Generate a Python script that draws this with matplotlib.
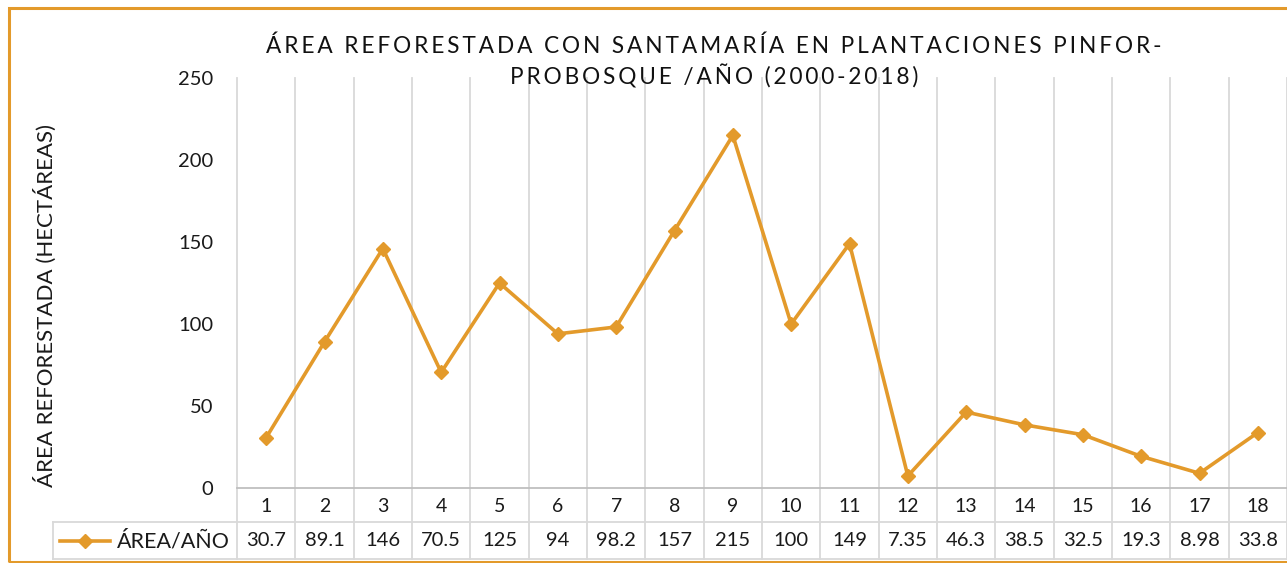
import matplotlib
matplotlib.use("Agg")
import matplotlib.pyplot as plt
from matplotlib.lines import Line2D
from matplotlib.patches import Rectangle

plt.rcParams['font.family'] = ['Lato', 'DejaVu Sans']

categories = [str(i) for i in range(1, 19)]
values = [30.7, 89.1, 146, 70.5, 125, 94, 98.2, 157, 215, 100, 149, 7.35,
          46.3, 38.5, 32.5, 19.3, 8.98, 33.8]
value_labels = ["30.7", "89.1", "146", "70.5", "125", "94", "98.2", "157", "215",
                "100", "149", "7.35", "46.3", "38.5", "32.5", "19.3", "8.98", "33.8"]
series_name = "ÁREA/AÑO"
yticks = [0, 50, 100, 150, 200, 250]
title = "ÁREA REFORESTADA CON SANTAMARÍA EN PLANTACIONES PINFOR-\nPROBOSQUE /AÑO (2000-2018)"
ylabel = "ÁREA REFORESTADA (HECTÁREAS)"

ORANGE = "#E39A2B"
GRID = "#D9D9D9"
AXIS = "#BFBFBF"
TXT = "#1a1a1a"

W, H = 1287, 563
fig = plt.figure(figsize=(W / 100, H / 100), dpi=100)

def fx(px):
    return px / W

def fy(py):
    return 1 - py / H

left, right, top, bottom = 237, 1287, 78, 488
ax = fig.add_axes([fx(left), fy(bottom), fx(right) - fx(left), fy(top) - fy(bottom)])
n = len(categories)
x = list(range(1, n + 1))
ax.set_xlim(0.5, n + 0.5)
ax.set_ylim(0, 250)
for s in ['top', 'right', 'left']:
    ax.spines[s].set_visible(False)
ax.spines['bottom'].set_color(AXIS)
ax.spines['bottom'].set_linewidth(1.3)
ax.set_xticks([])
ax.set_yticks(yticks)
ax.tick_params(axis='y', length=0, pad=17, labelsize=14.5, labelcolor=TXT)

ah = bottom - top
def ay(py):
    return (bottom - py) / ah
row1_bottom = ay(522)
row2_bottom = ay(559)
header_left = (53 - left) / (right - left)

for b in [i + 0.5 for i in range(0, n + 1)]:
    ax.plot([b, b], [row2_bottom, 1], color=GRID, lw=1.3,
            transform=ax.get_xaxis_transform(), clip_on=False, zorder=0)

for yy in [row1_bottom, row2_bottom]:
    ax.add_line(Line2D([header_left, 1], [yy, yy], color=GRID, lw=1.3,
                       transform=ax.transAxes, clip_on=False))
ax.add_line(Line2D([header_left, header_left], [row2_bottom, row1_bottom], color=GRID,
                   lw=1.3, transform=ax.transAxes, clip_on=False))

ax.plot(x, values, color=ORANGE, lw=2.6, marker='D', markersize=7.5, zorder=3, clip_on=False)

row1_c = ay(506)
row2_c = ay(541)
trans = ax.get_xaxis_transform()
for xi, c, v in zip(x, categories, value_labels):
    ax.text(xi, row1_c, c, ha='center', va='center', fontsize=14, transform=trans, color=TXT)
    ax.text(xi, row2_c, v, ha='center', va='center', fontsize=14.5, transform=trans, color=TXT)

kx0 = (60 - left) / (right - left)
kx1 = (110 - left) / (right - left)
ax.add_line(Line2D([kx0, kx1], [row2_c, row2_c], color=ORANGE, lw=2.6,
                   transform=ax.transAxes, clip_on=False))
ax.add_line(Line2D([(kx0 + kx1) / 2], [row2_c], color=ORANGE, marker='D', markersize=7.5,
                   transform=ax.transAxes, clip_on=False))
ax.text((117 - left) / (right - left), row2_c, series_name, ha='left', va='center',
        fontsize=15.5, transform=ax.transAxes, color=TXT)

def spaced(s):
    return "\n".join("\u2009".join(list(line)) for line in s.split("\n"))

fig.text(fx(714), fy(62), spaced(title), ha='center', va='center', fontsize=16.3,
         color="#111111", linespacing=1.4)

fig.text(fx(45), fy(305), ylabel, rotation=90, ha='center', va='center', fontsize=16,
         color=TXT)

fig.patches.append(Rectangle((fx(9), fy(562)), 1.2, fy(8) - fy(562), transform=fig.transFigure,
                             fill=False, edgecolor=ORANGE, lw=2.2))

fig.savefig("out.png", dpi=100)
